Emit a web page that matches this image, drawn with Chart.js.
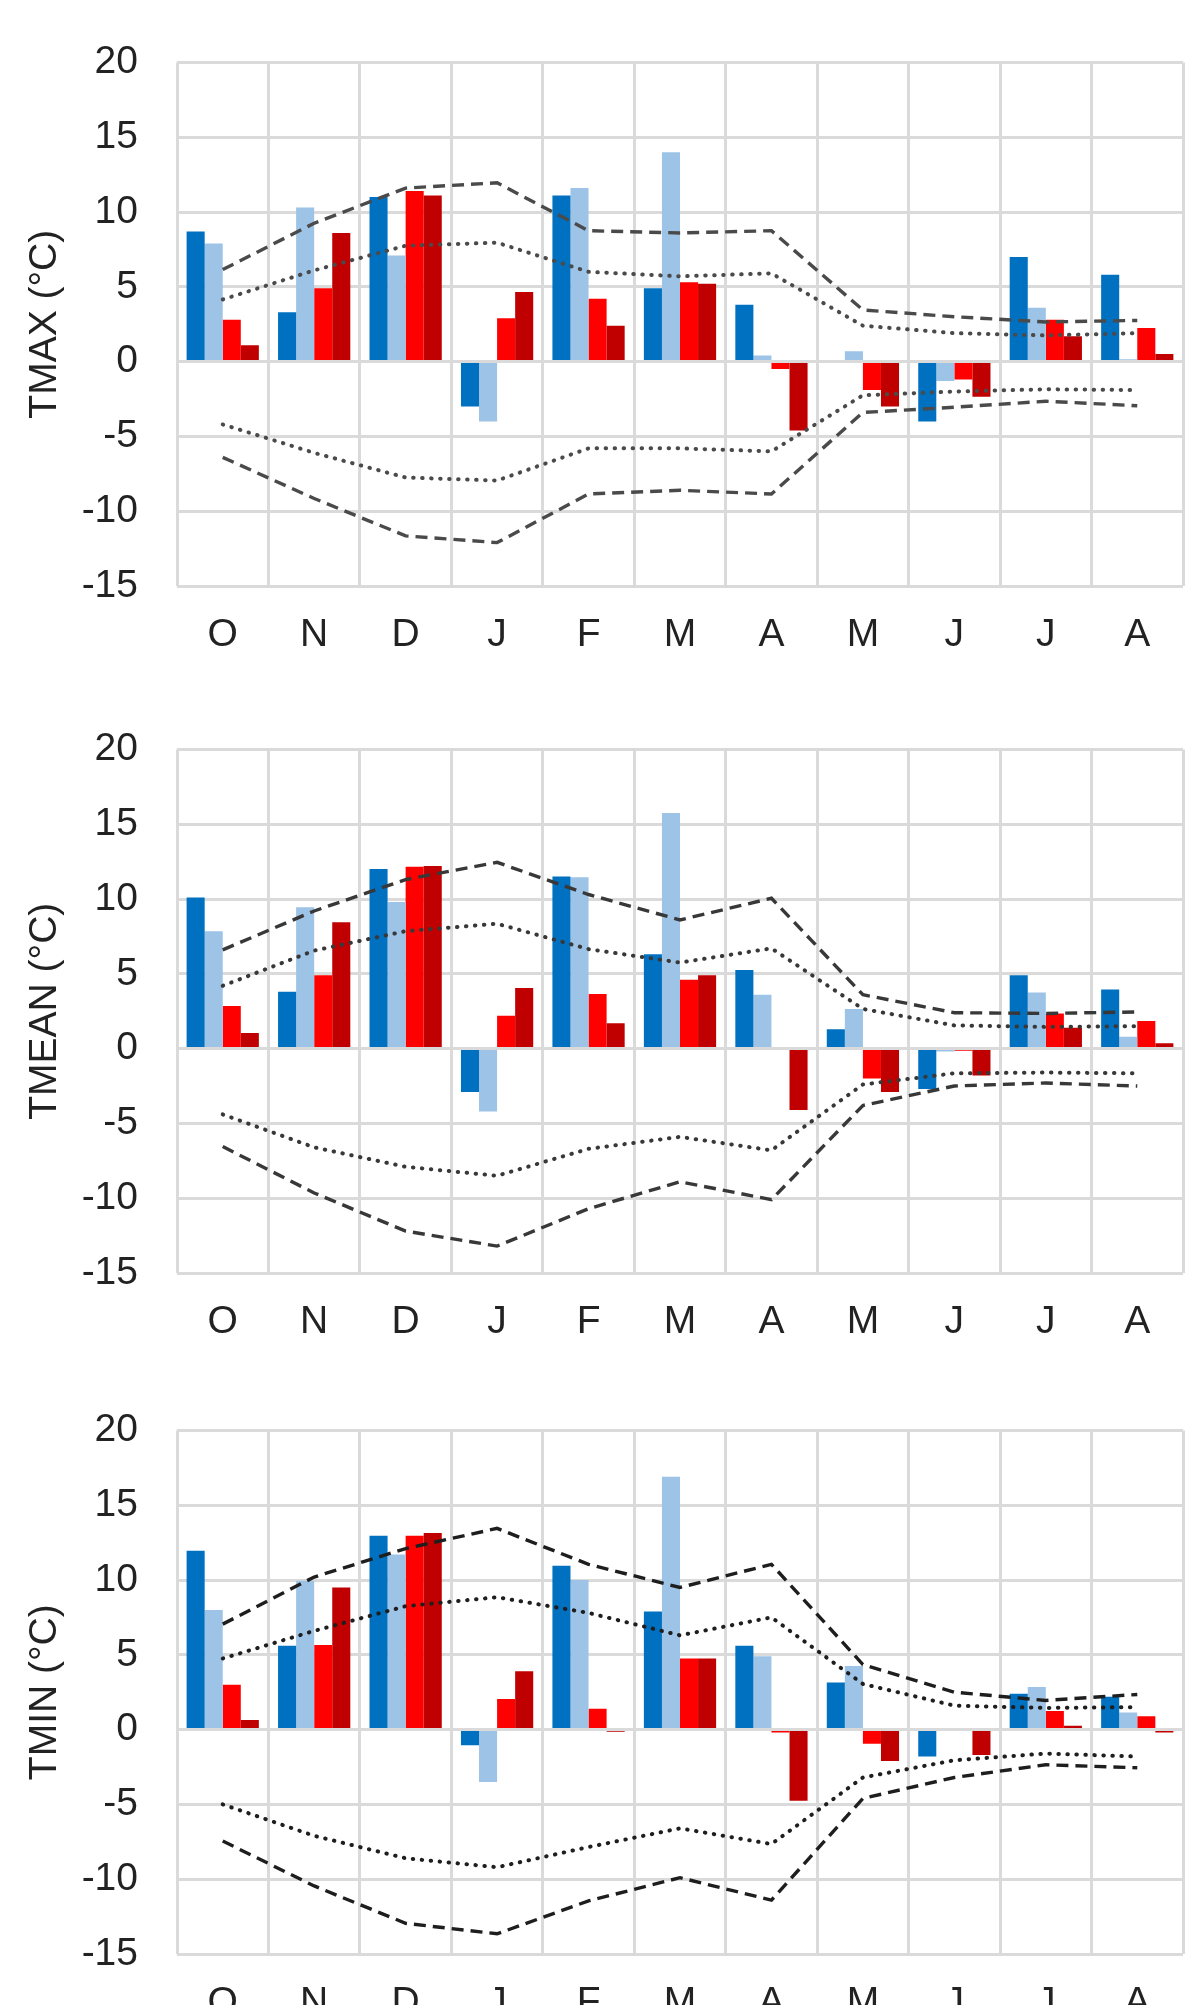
<!DOCTYPE html>
<html lang="es">
<head>
<meta charset="UTF-8">
<title>TMAX / TMEAN / TMIN</title>
<script src="https://cdn.jsdelivr.net/npm/chart.js@4"></script>
<style>
  html, body { margin: 0; padding: 0; background: #fff; overflow: hidden; }
  .panel { position: absolute; left: 0; width: 1185px; height: 686px; }
</style>
</head>
<body>
<div class="panel" style="top:0px"><canvas id="graficoTmax"></canvas></div>
<div class="panel" style="top:687px"><canvas id="graficoTmean"></canvas></div>
<div class="panel" style="top:1368px"><canvas id="graficoTmin"></canvas></div>

<script>
const meses = ["O", "N", "D", "J", "F", "M", "A", "M", "J", "J", "A"];

// TMAX: barras
const tmaxAzul    = [8.7, 3.3, 11.0, -3.0, 11.1, 4.9, 3.8, 0.1, -4.0, 7.0, 5.8];
const tmaxCeleste = [7.9, 10.3, 7.1, -4.0, 11.6, 14.0, 0.4, 0.7, -1.3, 3.6, 0.15];
const tmaxRojo    = [2.8, 4.9, 11.4, 2.9, 4.2, 5.3, -0.5, -1.9, -1.2, 2.8, 2.25];
const tmaxGranate = [1.1, 8.6, 11.1, 4.65, 2.4, 5.2, -4.6, -3.0, -2.35, 1.7, 0.5];
// TMAX: limites
const tmaxGuionSup = [6.15, 9.25, 11.6, 11.95, 8.75, 8.6, 8.75, 3.45, 3.0, 2.65, 2.75];
const tmaxPuntoSup = [4.15, 6.1, 7.75, 7.95, 6.0, 5.7, 5.9, 2.4, 1.9, 1.75, 1.9];
const tmaxPuntoInf = [-4.2, -6.1, -7.75, -7.95, -5.8, -5.8, -6.0, -2.25, -2.0, -1.85, -1.9];
const tmaxGuionInf = [-6.4, -9.15, -11.65, -12.1, -8.85, -8.6, -8.85, -3.4, -3.05, -2.65, -2.95];

// TMEAN: barras
const tmeanAzul    = [10.1, 3.8, 12.0, -2.9, 11.5, 6.3, 5.25, 1.3, -2.7, 4.9, 3.95];
const tmeanCeleste = [7.85, 9.45, 9.8, -4.2, 11.45, 15.75, 3.6, 2.65, -0.2, 3.75, 0.8];
const tmeanRojo    = [2.85, 4.9, 12.15, 2.2, 3.65, 4.6, 0.1, -2.0, -0.15, 2.35, 1.85];
const tmeanGranate = [1.05, 8.45, 12.2, 4.05, 1.7, 4.9, -4.1, -2.9, -1.8, 1.4, 0.35];
// TMEAN: limites
const tmeanGuionSup = [6.6, 9.2, 11.3, 12.45, 10.3, 8.6, 10.05, 3.6, 2.4, 2.35, 2.45];
const tmeanPuntoSup = [4.2, 6.55, 7.85, 8.35, 6.65, 5.75, 6.7, 2.65, 1.55, 1.45, 1.5];
const tmeanPuntoInf = [-4.4, -6.6, -7.9, -8.5, -6.7, -5.9, -6.8, -2.4, -1.65, -1.6, -1.65];
const tmeanGuionInf = [-6.55, -9.65, -12.2, -13.2, -10.7, -8.9, -10.1, -3.8, -2.5, -2.3, -2.5];

// TMIN: barras
const tminAzul    = [11.95, 5.6, 12.95, -1.05, 10.95, 7.9, 5.6, 3.15, -1.8, 2.4, 2.2];
const tminCeleste = [8.0, 9.95, 11.7, -3.5, 10.0, 16.9, 4.9, 4.25, 0, 2.85, 1.15];
const tminRojo    = [3.0, 5.65, 12.95, 2.05, 1.4, 4.75, -0.2, -0.95, -0.1, 1.25, 0.9];
const tminGranate = [0.65, 9.5, 13.15, 3.9, -0.15, 4.75, -4.75, -2.1, -1.7, 0.25, -0.2];
// TMIN: limites
const tminGuionSup = [7.05, 10.2, 12.1, 13.45, 11.05, 9.5, 11.05, 4.35, 2.5, 1.95, 2.35];
const tminPuntoSup = [4.75, 6.6, 8.25, 8.85, 7.8, 6.3, 7.5, 3.05, 1.6, 1.45, 1.5];
const tminPuntoInf = [-5.0, -7.1, -8.6, -9.2, -7.85, -6.6, -7.65, -3.2, -2.05, -1.6, -1.8];
const tminGuionInf = [-7.45, -10.45, -12.95, -13.65, -11.45, -9.9, -11.4, -4.6, -3.2, -2.35, -2.55];

const fuente = { family: "'Liberation Sans', Arial, sans-serif", size: 39 };
const colorTexto = "#222";
const colorGrilla = "#dadada";
const coloresBarras = ["#0070c0", "#9dc3e6", "#ff0000", "#c00000"];

function linea(valores, punteada, color) {
  return {
    type: "line",
    data: valores,
    borderColor: color,
    borderWidth: punteada ? 4 : 3.4,
    borderDash: punteada ? [0.5, 8.5] : [12, 7],
    borderCapStyle: punteada ? "round" : "butt",
    pointRadius: 0,
    fill: false,
    tension: 0,
    order: 0
  };
}

function crearGrafico(id, titulo, barras, lineas, colorLinea) {
  const datasets = [
    linea(lineas[0], false, colorLinea),
    linea(lineas[1], true, colorLinea),
    linea(lineas[2], true, colorLinea),
    linea(lineas[3], false, colorLinea)
  ];
  barras.forEach((serie, i) => {
    datasets.push({ data: serie, backgroundColor: coloresBarras[i], order: 1 });
  });

  return new Chart(document.getElementById(id), {
    type: "bar",
    data: { labels: meses, datasets: datasets },
    options: {
      responsive: true,
      maintainAspectRatio: false,
      animation: false,
      layout: { padding: { top: 46, right: 2, left: 0, bottom: 0 } },
      plugins: { legend: { display: false }, tooltip: { enabled: false } },
      datasets: { bar: { barPercentage: 1, categoryPercentage: 0.79 } },
      scales: {
        x: {
          grid: { color: colorGrilla, lineWidth: 3, drawTicks: false, offset: true },
          border: { display: false },
          ticks: { font: fuente, color: colorTexto, padding: 26, maxRotation: 0 },
          afterFit: s => { s.height = 100; }
        },
        y: {
          min: -15,
          max: 20,
          grid: { color: colorGrilla, lineWidth: 3, drawTicks: false },
          border: { display: false },
          ticks: { stepSize: 5, font: fuente, color: colorTexto, padding: 39 },
          title: { display: true, text: titulo, font: fuente, color: colorTexto, padding: { top: 22, bottom: 0 } },
          afterFit: s => { s.width = 177; }
        }
      }
    }
  });
}

crearGrafico("graficoTmax", "TMAX (°C)",
  [tmaxAzul, tmaxCeleste, tmaxRojo, tmaxGranate],
  [tmaxGuionSup, tmaxPuntoSup, tmaxPuntoInf, tmaxGuionInf], "#4a4a4a");

crearGrafico("graficoTmean", "TMEAN (°C)",
  [tmeanAzul, tmeanCeleste, tmeanRojo, tmeanGranate],
  [tmeanGuionSup, tmeanPuntoSup, tmeanPuntoInf, tmeanGuionInf], "#383838");

crearGrafico("graficoTmin", "TMIN (°C)",
  [tminAzul, tminCeleste, tminRojo, tminGranate],
  [tminGuionSup, tminPuntoSup, tminPuntoInf, tminGuionInf], "#1e1e1e");
</script>
</body>
</html>
